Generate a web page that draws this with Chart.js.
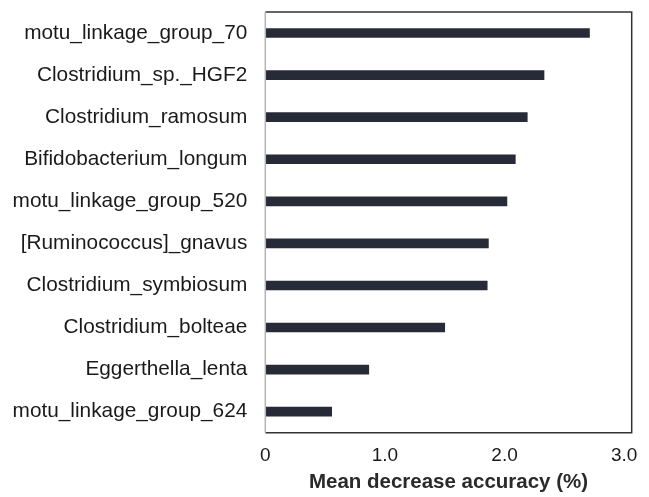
<!DOCTYPE html>
<html>
<head>
<meta charset="utf-8">
<script src="https://cdn.jsdelivr.net/npm/chart.js@4/dist/chart.umd.min.js"></script>
<style>
  html, body { margin: 0; padding: 0; background: #ffffff; }
  #wrap { width: 649px; height: 497px; }
</style>
</head>
<body>
<div id="wrap"><canvas id="c" width="649" height="497"></canvas></div>
<script>
// Taxa ranked by importance
const taxa = [
  "motu_linkage_group_70",
  "Clostridium_sp._HGF2",
  "Clostridium_ramosum",
  "Bifidobacterium_longum",
  "motu_linkage_group_520",
  "[Ruminococcus]_gnavus",
  "Clostridium_symbiosum",
  "Clostridium_bolteae",
  "Eggerthella_lenta",
  "motu_linkage_group_624"
];
// Mean decrease accuracy (%)
const meanDecrease = [2.71, 2.33, 2.19, 2.09, 2.02, 1.865, 1.855, 1.50, 0.865, 0.555];
const tickValues = [0, 1, 2, 3];
const tickLabels = ["0", "1.0", "2.0", "3.0"];

const FONT = "'Liberation Sans', Arial, sans-serif";

// Frame around the plotting area: light left axis line, dark remaining sides
const framePlugin = {
  id: 'frame',
  afterDatasetsDraw(chart) {
    const { ctx, chartArea: a } = chart;
    ctx.save();
    ctx.lineWidth = 1.5;
    ctx.strokeStyle = '#333333';
    ctx.beginPath();
    ctx.moveTo(a.left, a.bottom);
    ctx.lineTo(a.right, a.bottom);
    ctx.lineTo(a.right, a.top);
    ctx.lineTo(a.left, a.top);
    ctx.stroke();
    ctx.strokeStyle = '#b4b4b4';
    ctx.beginPath();
    ctx.moveTo(a.left, a.top);
    ctx.lineTo(a.left, a.bottom);
    ctx.stroke();
    ctx.restore();
  }
};

function noEdgePadding(scale) {
  scale.paddingTop = 0;
  scale.paddingBottom = 0;
  scale.paddingLeft = 0;
  scale.paddingRight = 0;
}

new Chart(document.getElementById('c'), {
  type: 'bar',
  data: {
    labels: taxa,
    datasets: [{
      data: meanDecrease,
      backgroundColor: '#272b37',
      borderWidth: 0,
      barThickness: 9
    }]
  },
  options: {
    indexAxis: 'y',
    responsive: false,
    animation: false,
    devicePixelRatio: 1,
    layout: { padding: { top: 12, right: 17.3, left: 0, bottom: 0 } },
    plugins: {
      legend: { display: false },
      tooltip: { enabled: false }
    },
    scales: {
      x: {
        type: 'linear',
        min: 0,
        max: 3.063,
        grid: { display: false, drawTicks: false },
        border: { display: false },
        afterBuildTicks(scale) {
          scale.ticks = tickValues.map(v => ({ value: v }));
        },
        afterFit(scale) { scale.height = 64.3; noEdgePadding(scale); },
        ticks: {
          padding: 12,
          color: '#1a1a1a',
          font: { family: FONT, size: 19 },
          callback(value) {
            const i = tickValues.indexOf(value);
            return i >= 0 ? tickLabels[i] : '';
          }
        },
        title: {
          display: true,
          text: 'Mean decrease accuracy (%)',
          color: '#2a2a2a',
          font: { family: FONT, size: 20.5, weight: 'bold' },
          padding: { top: 0, bottom: 2 }
        }
      },
      y: {
        grid: { display: false, drawTicks: false },
        border: { display: false },
        afterFit(scale) { scale.width = 265.3; noEdgePadding(scale); },
        ticks: {
          padding: 18,
          color: '#1a1a1a',
          font: { family: FONT, size: 20.8 }
        }
      }
    }
  },
  plugins: [framePlugin]
});
</script>
</body>
</html>
